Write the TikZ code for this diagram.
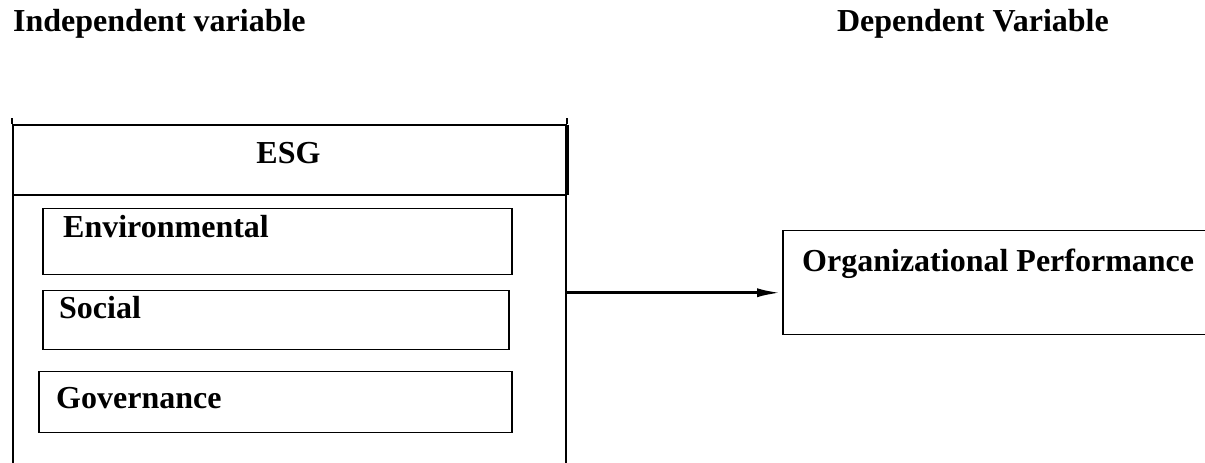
\documentclass[tikz,border=0pt]{standalone}
\usepackage{fontspec}
\setmainfont{Liberation Serif}
\usetikzlibrary{arrows.meta}
\tikzset{
  x=1pt, y=1pt,
  lbl/.style={font=\fontsize{32}{37}\selectfont\bfseries, inner sep=0pt, anchor=base west},
  itembox/.style={draw, line width=1.5pt, inner sep=0pt, anchor=north west},
  outerbox/.style={draw, line width=2pt, inner sep=0pt, anchor=north west},
  flow/.style={line width=3.2pt, -{Latex[length=25pt, width=9pt]}},
}
\begin{document}
\begin{tikzpicture}
\useasboundingbox (0,0) rectangle (1205,463);
\clip (0,0) rectangle (1205,463);
\fill[white] (0,0) rectangle (1205,463);

% column headings
\node[lbl] (indep) at (13,431) {Independent variable};
\node[lbl, anchor=base east] (dep) at (1109,431) {Dependent Variable};

% ESG frame (open at the bottom edge of the page)
\node[outerbox, minimum width=553pt, minimum height=360pt] (esg) at (12,339) {};
\draw[line width=2pt] (esg.north west) -- ++(0,6);
\draw[line width=2pt] (esg.north east) -- ++(0,6);
\draw[line width=3.5pt] ([yshift=-1pt]esg.north east) -- ([yshift=-71pt]esg.north east);
\draw[line width=2pt] ([yshift=-71pt]esg.north west) -- ([yshift=-71pt]esg.north east);
\node[lbl, anchor=base] (esgtxt) at (288.5,299) {ESG};

% ESG components
\node[itembox, minimum width=469pt, minimum height=66pt] (env) at (42,255) {};
\node[lbl] (envtxt) at (63,225) {Environmental};
\node[itembox, minimum width=466pt, minimum height=59pt] (soc) at (42,173) {};
\node[lbl] (soctxt) at (59,144) {Social};
\node[itembox, minimum width=473pt, minimum height=61pt] (gov) at (38,92) {};
\node[lbl] (govtxt) at (56,54) {Governance};

% dependent variable box (runs off the right edge)
\node[itembox, minimum width=440pt, minimum height=104pt] (org) at (782,233) {};
\node[lbl] (orgtxt) at (802,191) {Organizational Performance};

% relation
\draw[flow] ([yshift=-10pt]org.west -| esg.east) -- ([yshift=-10pt]org.west);
\end{tikzpicture}
\end{document}
